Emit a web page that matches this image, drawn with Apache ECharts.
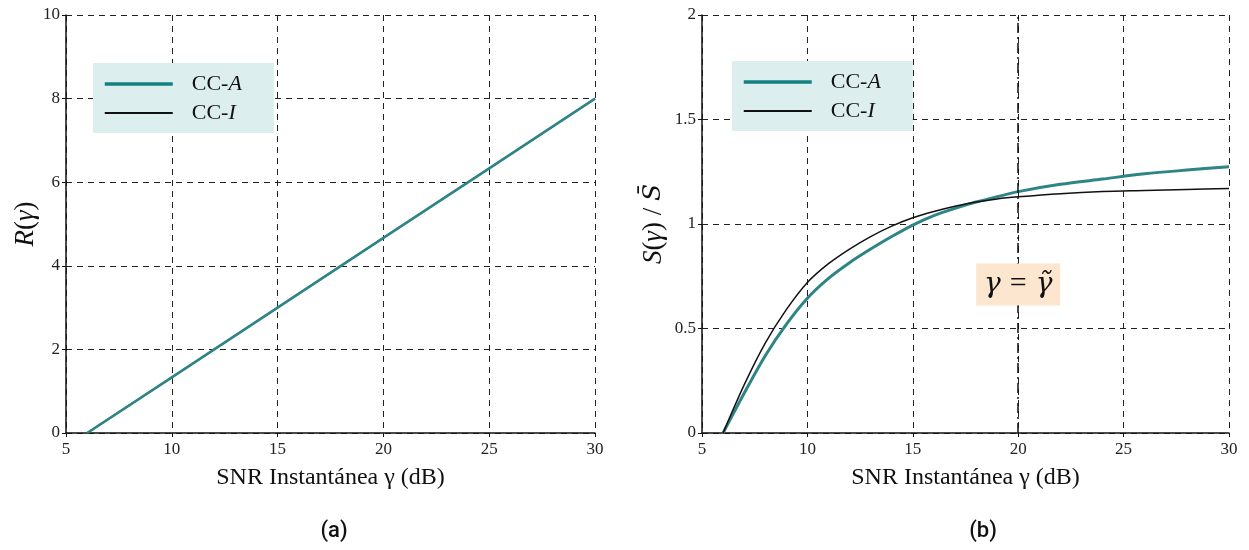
<!DOCTYPE html>
<html>
<head>
<meta charset="utf-8">
<script src="https://cdn.jsdelivr.net/npm/echarts@6/dist/echarts.min.js"></script>
<style>html,body{margin:0;padding:0;background:#fff;}#c{width:1249px;height:550px;}</style>
</head>
<body>
<div id="c"></div>
<script>
// Panel (a): rate vs instantaneous SNR
const snrA = [6, 10, 15, 20, 25, 30];
const rateCCA = [0, 1.33, 3.0, 4.67, 6.33, 8.0];
const rateCCI = [0, 1.33, 3.0, 4.67, 6.33, 8.0];
// Panel (b): normalized power vs instantaneous SNR
const snrB = [6, 7, 8, 9, 10, 11, 12, 13, 14, 15, 16, 17, 18, 19, 20, 22, 24, 26, 28, 30];
const sCCA = [0, 0.19, 0.37, 0.52, 0.645, 0.74, 0.815, 0.88, 0.94, 0.995, 1.04, 1.075, 1.105, 1.13, 1.155, 1.19, 1.215, 1.24, 1.258, 1.274];
const sCCI = [0, 0.23, 0.43, 0.59, 0.72, 0.81, 0.88, 0.94, 0.99, 1.03, 1.06, 1.085, 1.105, 1.12, 1.13, 1.145, 1.155, 1.16, 1.165, 1.17];
const xTicks = [5, 10, 15, 20, 25, 30];
const gammaTilde = 20;
const annotY = 0.71;

const serif = '"Liberation Serif", "DejaVu Serif", serif';
const teal = '#2f8585';
const legendTeal = '#148080';

function pairs(xs, ys){ return xs.map((x,i)=>[x, ys[i]]); }

function xAxis(gi){
  return {
    gridIndex: gi, type: 'value', min: 5, max: 30, interval: 5,
    name: 'SNR Instantánea γ (dB)', nameLocation: 'middle', nameGap: 33,
    nameTextStyle: {fontFamily: serif, fontSize: 24, color: '#111'},
    axisLine: {show: true, lineStyle: {color: '#111', width: 1.5}},
    axisTick: {show: true, length: 4, lineStyle: {color: '#111'}},
    axisLabel: {fontFamily: serif, fontSize: 17, color: '#222', margin: 8},
    splitLine: {show: true, lineStyle: {type: [6, 5], color: '#222', width: 1}}
  };
}
function yAxis(gi, max, interval, name, gap){
  return {
    gridIndex: gi, type: 'value', min: 0, max: max, interval: interval,
    name: name, nameLocation: 'middle', nameGap: gap, nameRotate: 90,
    nameTextStyle: {fontFamily: serif, fontSize: 27, color: '#111', rich: nameRich},
    axisLine: {show: true, lineStyle: {color: '#111', width: 1.5}},
    axisTick: {show: true, length: 4, lineStyle: {color: '#111'}},
    axisLabel: {fontFamily: serif, fontSize: 17, color: '#222', margin: 6},
    splitLine: {show: true, lineStyle: {type: [6, 5], color: '#222', width: 1}}
  };
}
const nameRich = {
  i: {fontFamily: serif, fontStyle: 'italic', fontSize: 27, color: '#111'},
  n: {fontFamily: serif, fontSize: 27, color: '#111'},
  d: {fontFamily: '"DejaVu Serif", serif', fontStyle: 'italic', fontSize: 25, color: '#111'}
};
const legRich = {
  n: {fontFamily: serif, fontSize: 22, color: '#111'},
  i: {fontFamily: serif, fontSize: 22, fontStyle: 'italic', color: '#111'}
};
function legend(left, top){
  return {
    orient: 'vertical', left: left, top: top,
    backgroundColor: '#dcefee', padding: [10, 32, 9, 10], itemGap: 7,
    itemWidth: 68, itemHeight: 14,
    itemStyle: {opacity: 0},
    data: [
      {name: 'CC-A', lineStyle: {color: legendTeal, width: 3.5}},
      {name: 'CC-I', lineStyle: {color: '#111', width: 2}}
    ],
    formatter: function(n){ return '{n|CC-}{i|' + n.slice(3) + '}'; },
    textStyle: {rich: legRich, padding: [0, 0, 0, 14]}
  };
}

const chart = echarts.init(document.getElementById('c'), null, {renderer: 'canvas'});
chart.setOption({
  animation: false,
  backgroundColor: '#fff',
  grid: [
    {left: 66, right: 654, top: 15, bottom: 117},
    {left: 702, right: 20, top: 15, bottom: 117}
  ],
  xAxis: [xAxis(0), xAxis(1)],
  yAxis: [
    yAxis(0, 10, 2, '{i|R}{n|(}{i|γ}{n|)}', 21),
    yAxis(1, 2, 0.5, '{i|S}{n|(}{i|γ}{n|) / }{d|S̄}', 35)
  ],
  legend: [legend(93, 63), legend(732, 61)],
  title: [
    {text: '(a)', left: 329, top: 515, textAlign: 'center', textStyle: {fontFamily: 'Roboto, "Noto Sans", sans-serif', fontWeight: 500, fontSize: 22, color: '#111'}},
    {text: '(b)', left: 978, top: 515, textAlign: 'center', textStyle: {fontFamily: 'Roboto, "Noto Sans", sans-serif', fontWeight: 500, fontSize: 22, color: '#111'}}
  ],
  series: [
    {name: 'CC-I', type: 'line', xAxisIndex: 0, yAxisIndex: 0, data: pairs(snrA, rateCCI), symbol: 'none',
     lineStyle: {color: '#111', width: 1.5}, itemStyle: {color: '#111'}, z: 2},
    {name: 'CC-A', type: 'line', xAxisIndex: 0, yAxisIndex: 0, data: pairs(snrA, rateCCA), symbol: 'none',
     lineStyle: {color: teal, width: 2.6}, itemStyle: {color: legendTeal}, z: 3},
    {name: 'CC-A', type: 'line', xAxisIndex: 1, yAxisIndex: 1, data: pairs(snrB, sCCA), symbol: 'none', smooth: 0.3,
     lineStyle: {color: teal, width: 3}, itemStyle: {color: legendTeal}, z: 3,
     markLine: {silent: true, symbol: 'none', label: {show: false},
       lineStyle: {type: [10, 4, 2, 4], color: '#111', width: 1.5},
       data: [{xAxis: gammaTilde}]},
     markPoint: {silent: true, symbol: 'rect', symbolSize: [84, 42],
       itemStyle: {color: '#fde6d0'},
       label: {show: true, formatter: '{g|γ}{e|=}{g|γ̃}',
         rich: {
           g: {fontFamily: '"DejaVu Serif", serif', fontStyle: 'italic', fontSize: 28, color: '#111'},
           e: {fontFamily: serif, fontSize: 30, color: '#111', padding: [0, 9, 0, 9]}
         }},
       data: [{coord: [gammaTilde, annotY]}]}},
    {name: 'CC-I', type: 'line', xAxisIndex: 1, yAxisIndex: 1, data: pairs(snrB, sCCI), symbol: 'none', smooth: 0.3,
     lineStyle: {color: '#111', width: 1.5}, itemStyle: {color: '#111'}, z: 4}
  ]
});
</script>
</body>
</html>
